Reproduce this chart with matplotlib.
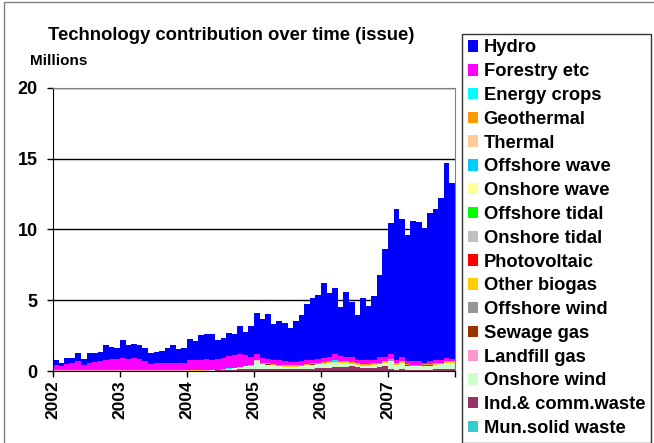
import numpy as np
import matplotlib
matplotlib.use("Agg")
import matplotlib.pyplot as plt
from matplotlib.patches import Patch, Rectangle

# monthly values, Jan 2002 .. Dec 2007 (millions)
years = ["2002", "2003", "2004", "2005", "2006", "2007"]
n_months = 72

hydro = [0.35, 0.27, 0.43, 0.37, 0.56, 0.46, 0.68, 0.61, 0.63, 1.07, 0.86, 0.76,
         1.24, 1.01, 1.01, 1.01, 0.92, 0.74, 0.71, 0.80, 1.00, 1.27, 0.94, 1.04,
         1.49, 1.30, 1.75, 1.78, 1.82, 1.33, 1.41, 1.64, 1.50, 1.98, 1.68, 2.22,
         2.90, 2.73, 3.16, 2.53, 2.76, 2.70, 2.41, 2.93, 3.26, 3.98, 4.33, 4.52,
         5.31, 4.48, 4.68, 3.45, 4.55, 3.89, 3.18, 4.38, 3.82, 4.47, 5.81, 7.64,
         9.27, 10.68, 9.79, 8.86, 9.93, 9.86, 9.52, 10.47, 10.68, 11.42, 13.74, 12.43]
forestry = [0.35, 0.28, 0.45, 0.51, 0.63, 0.35, 0.51, 0.58, 0.63, 0.75, 0.79, 0.79,
            0.88, 0.81, 0.88, 0.81, 0.63, 0.45, 0.55, 0.55, 0.55, 0.55, 0.55, 0.51,
            0.70, 0.75, 0.75, 0.78, 0.72, 0.74, 0.81, 0.89, 0.92, 0.90, 0.75, 0.58,
            0.37, 0.35, 0.32, 0.30, 0.30, 0.30, 0.23, 0.23, 0.27, 0.25, 0.25, 0.27,
            0.29, 0.30, 0.42, 0.35, 0.30, 0.35, 0.25, 0.25, 0.25, 0.25, 0.38, 0.30,
            0.35, 0.25, 0.28, 0.22, 0.25, 0.23, 0.10, 0.20, 0.25, 0.20, 0.24, 0.15]
onshore_wind = [0.01] * 24 + [
    0.00, 0.00, 0.00, 0.01, 0.02, 0.03, 0.04, 0.08, 0.10, 0.15, 0.18, 0.22,
    0.55, 0.35, 0.32, 0.27, 0.22, 0.17, 0.17, 0.17, 0.20, 0.22, 0.27, 0.29,
    0.31, 0.34, 0.36, 0.31, 0.28, 0.21, 0.16, 0.16, 0.16, 0.19, 0.21, 0.26,
    0.60, 0.32, 0.45, 0.27, 0.24, 0.24, 0.27, 0.27, 0.30, 0.35, 0.43, 0.43]
ind_comm_waste = [0.01] * 24 + [
    0.00, 0.00, 0.00, 0.00, 0.01, 0.02, 0.03, 0.05, 0.07, 0.10, 0.12, 0.13,
    0.12, 0.12, 0.10, 0.10, 0.10, 0.10, 0.10, 0.10, 0.12, 0.15, 0.15, 0.18,
    0.20, 0.22, 0.25, 0.25, 0.28, 0.30, 0.25, 0.20, 0.20, 0.22, 0.25, 0.30,
    0.10, 0.08, 0.10, 0.08, 0.06, 0.06, 0.08, 0.08, 0.10, 0.10, 0.12, 0.12]
mun_solid_waste = [0.01] * 24 + [0.02] * 48
landfill_gas = [0.01] * 72
sewage_gas = [0.0] * 36 + [0.01] * 36
offshore_wind = [0.0] * 60 + [0.01] * 12
other_biogas = [0.0] * 24 + [0.01] * 48
photovoltaic = [0.0] * 48 + [0.01] * 24
onshore_tidal = [0.0] * 72
offshore_tidal = [0.0] * 72
onshore_wave = [0.0] * 72
offshore_wave = [0.0] * 36 + [0.02] * 36
thermal = [0.0] * 36 + [0.01] * 36
geothermal = [0.0] * 36 + [0.01] * 36
energy_crops = [0.01] * 36 + [0.04] * 36

# bottom to top
series = [
    ("Mun.solid waste", mun_solid_waste, "#33CCCC"),
    ("Ind.& comm.waste", ind_comm_waste, "#993366"),
    ("Onshore wind", onshore_wind, "#CCFFCC"),
    ("Landfill gas", landfill_gas, "#FF99CC"),
    ("Sewage gas", sewage_gas, "#993300"),
    ("Offshore wind", offshore_wind, "#969696"),
    ("Other biogas", other_biogas, "#FFCC00"),
    ("Photovoltaic", photovoltaic, "#FF0000"),
    ("Onshore tidal", onshore_tidal, "#C0C0C0"),
    ("Offshore tidal", offshore_tidal, "#00FF00"),
    ("Onshore wave", onshore_wave, "#FFFF99"),
    ("Offshore wave", offshore_wave, "#00CCFF"),
    ("Thermal", thermal, "#FFCC99"),
    ("Geothermal", geothermal, "#FF9900"),
    ("Energy crops", energy_crops, "#00FFFF"),
    ("Forestry etc", forestry, "#FF00FF"),
    ("Hydro", hydro, "#0000FF"),
]

plt.rcParams["font.family"] = "Liberation Sans"
plt.rcParams["font.weight"] = "bold"

fig = plt.figure(figsize=(6.54, 4.43), dpi=100)
ax = fig.add_axes([53 / 654, 72 / 443, 402 / 654, 283 / 443])

edges = np.arange(n_months + 1)
base = np.zeros(n_months)
for name, vals, col in series:
    top = base + np.array(vals)
    ax.stairs(top, edges, baseline=base, fill=True, color=col, lw=0)
    base = top

ax.set_xlim(0, n_months)
ax.set_ylim(0, 20)
ax.set_yticks([0, 5, 10, 15, 20])
ax.set_yticklabels(["0", "5", "10", "15", "20"], fontsize=13, fontweight="bold")
ax.set_xticks(np.arange(0, n_months + 1, 12))
ax.set_xticklabels(years + [""], rotation=90, fontsize=12.5, fontweight="bold")
ax.tick_params(axis="both", length=4, width=1, color="black")
ax.tick_params(axis="y", pad=7)
ax.tick_params(axis="x", pad=3)
ax.set_axisbelow(True)
ax.yaxis.grid(True, color="black", lw=1)
for s in ["top", "right"]:
    ax.spines[s].set_color("#808080")
for s in ["left", "bottom"]:
    ax.spines[s].set_color("black")

fig.text(48 / 654, 1 - 35 / 443, "Technology contribution over time (issue)",
         fontsize=13.3, fontweight="bold", va="center", ha="left")
fig.text(30 / 654, 1 - 61 / 443, "Millions", fontsize=11, fontweight="bold",
         va="center", ha="left")

handles = [Patch(facecolor=c, edgecolor="none") for _, _, c in series[::-1]]
labels = [n for n, _, _ in series[::-1]]
leg = fig.legend(handles, labels, loc="upper left",
                 bbox_to_anchor=(462 / 654, 1 - 34 / 443), frameon=True,
                 fancybox=False, fontsize=13.2, handlelength=0.58,
                 handleheight=0.58, handletextpad=0.3, labelspacing=0.37,
                 borderpad=0.3, borderaxespad=0)
leg.get_frame().set_edgecolor("black")
leg.get_frame().set_linewidth(1)

# chart area border
fig.patches.append(Rectangle((4 / 654, -0.1), 1.2, 1.1 - 2 / 443,
                             transform=fig.transFigure, fill=False,
                             edgecolor="#808080", lw=1))

fig.savefig("out.png", dpi=100)
